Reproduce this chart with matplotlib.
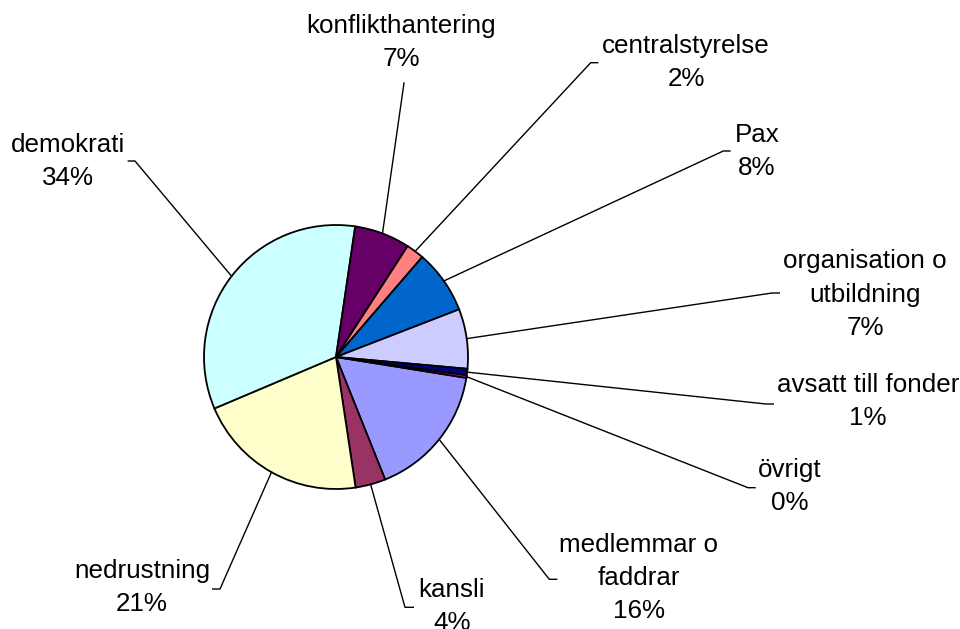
import numpy as np
import matplotlib
matplotlib.use('Agg')
import matplotlib.pyplot as plt

# Données (ordre des parts, sens horaire)
kategorier = ['medlemmar o\nfaddrar', 'kansli', 'nedrustning', 'demokrati', 'konflikthantering',
              'centralstyrelse', 'Pax', 'organisation o\nutbildning', 'avsatt till fonder', 'övrigt']
andel = [16.4, 3.7, 21.0, 33.7, 6.8, 2.2, 7.8, 7.3, 0.8, 0.3]
farger = ['#9999FF', '#993366', '#FFFFCC', '#CCFFFF', '#660066',
          '#FF8080', '#0066CC', '#CCCCFF', '#000080', '#FF00FF']

# Placement des étiquettes (pixels)
label_x = [638.7, 452, 142, 68, 401.5, 686, 757, 865, 868, 790]
label_base = [551.7, 596.7, 578, 151.7, 33, 53, 141.7, 268.3, 392, 476.7]
ticks = [(556.7, 549.3, 579.3), (413.3, 405, 607.3), (212.7, 220, 589), (128.3, 135, 161),
         (404, 404, 83), (597.7, 590.7, 62.7), (730, 723.3, 151), (779.3, 772, 293),
         (773.3, 766, 404), (755, 748, 487.7)]

W, H = 960, 629
cx, cy, r = 336, 357, 132
start = 99.1  # degrés depuis midi, sens horaire

fig = plt.figure(figsize=(9.6, 6.29), dpi=100)
ax = fig.add_axes([0, 0, 1, 1])
ax.pie(andel, colors=farger, startangle=90 - start, counterclock=False,
       center=(cx, H - cy), radius=r,
       wedgeprops=dict(edgecolor='black', linewidth=1.3))
ax.set_xlim(0, W)
ax.set_ylim(0, H)
ax.set_aspect('auto')
ax.axis('off')

total = sum(andel)
cum = 0
for i, v in enumerate(andel):
    mid = start + (cum + v / 2) / total * 360
    cum += v
    a = np.radians(mid)
    ex, ey = cx + r * np.sin(a), cy - r * np.cos(a)
    x1, x0, ty = ticks[i]
    ax.plot([x1, x0, ex], [H - ty, H - ty, H - ey], color='black', lw=1.0)
    lines = kategorier[i].split('\n') + [f"{v / total * 100:.0f}%"]
    for j, t in enumerate(lines):
        ax.text(label_x[i], H - (label_base[i] + j * 33.3), t, ha='center', va='baseline',
                fontsize=18.7, family='Liberation Sans')

fig.savefig('out.png', dpi=100)
